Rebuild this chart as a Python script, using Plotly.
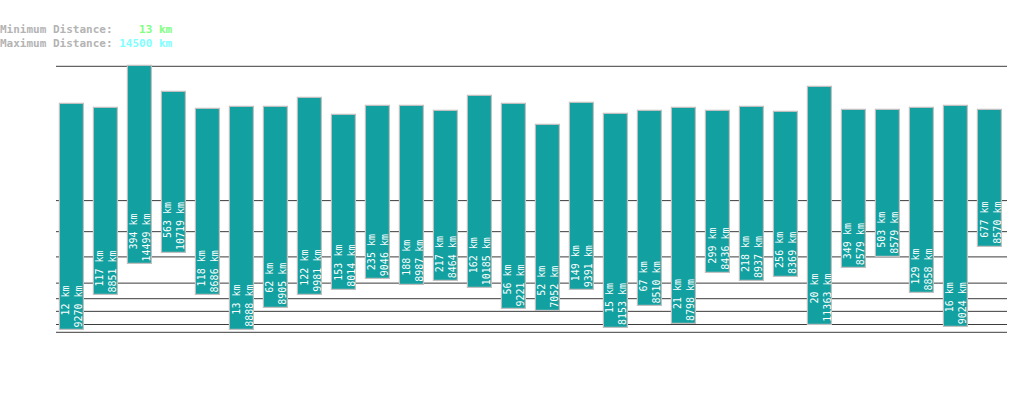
import plotly.graph_objects as go

# ---- data ----
min_km = [12, 117, 394, 563, 118, 13, 62, 122, 153, 235, 188, 217, 162, 56,
          52, 149, 15, 67, 21, 299, 218, 256, 20, 349, 503, 129, 16, 677]
max_km = [9270, 8851, 14499, 10719, 8686, 8888, 8905, 9981, 8014, 9046, 8987,
          8464, 10185, 9221, 7052, 9391, 8153, 8510, 8798, 8436, 8937, 8369,
          11363, 8579, 8579, 8858, 9024, 8570]
grid_km = [10, 20, 50, 100, 200, 500, 1000, 2000, 14500]
header_min = 13
header_max = 14500

P = 0.3  # power scale exponent


def t(d):
    return d ** P


idx = list(range(len(min_km)))
base = [t(a) for a in min_km]
height = [t(b) - t(a) for a, b in zip(min_km, max_km)]

W, H = 1019, 402
L, R = 56, 12
top_px, bot_px = 56, 342
pw = W - L - R
ph = bot_px - top_px

# y-range so that 10 km sits at pixel 332.3 and 14500 km at 66.3
c = (332.3 - 66.3) / (t(14500) - t(10))
y_hi = t(14500) + (66.3 - top_px) / c
y_lo = t(10) - (bot_px - 332.3) / c

fig = go.Figure()

# grid lines
for g in grid_km:
    fig.add_shape(type="line", xref="paper", yref="y", x0=0, x1=1, y0=t(g), y1=t(g),
                  line=dict(color="#3c3c3c", width=1), layer="below")

fig.add_trace(go.Bar(
    x=idx, y=height, base=base, width=0.69,
    marker=dict(color="#12a0a0", line=dict(color="#c0c0c0", width=1.2)),
    hoverinfo="skip",
))

mono = "DejaVu Sans Mono, Liberation Mono, monospace"
for i, (a, b) in enumerate(zip(min_km, max_km)):
    fig.add_annotation(
        x=i, y=t(a), xref="x", yref="y", xanchor="center", yanchor="bottom",
        text=f"{a} km<br>{b} km", textangle=-90, align="right", showarrow=False,
        font=dict(family=mono, size=10, color="white"), borderpad=0, yshift=2,
    )

nb = "\u00a0"
headers = [
    ("Minimum Distance:" + nb * 4 + f"<span style='color:#80ff80'>{header_min} km</span>", 29.5),
    ("Maximum Distance:" + nb + f"<span style='color:#80ffff'>{header_max} km</span>", 43.5),
]
for txt, ypx in headers:
    fig.add_annotation(
        x=(-1 - L) / pw, y=(bot_px - ypx) / ph, xref="paper", yref="paper",
        xanchor="left", yanchor="middle", text=txt, showarrow=False, borderpad=0,
        font=dict(family=mono, size=11, color="#b4b4b4", weight="bold"),
    )

fig.update_layout(
    width=W, height=H,
    margin=dict(l=L, r=R, t=top_px, b=H - bot_px, pad=0),
    plot_bgcolor="white", paper_bgcolor="white",
    showlegend=False, bargap=0,
    xaxis=dict(range=[-0.475, 27.495], visible=False, fixedrange=True),
    yaxis=dict(range=[y_lo, y_hi], visible=False, fixedrange=True),
)

fig.write_html("out.html")
